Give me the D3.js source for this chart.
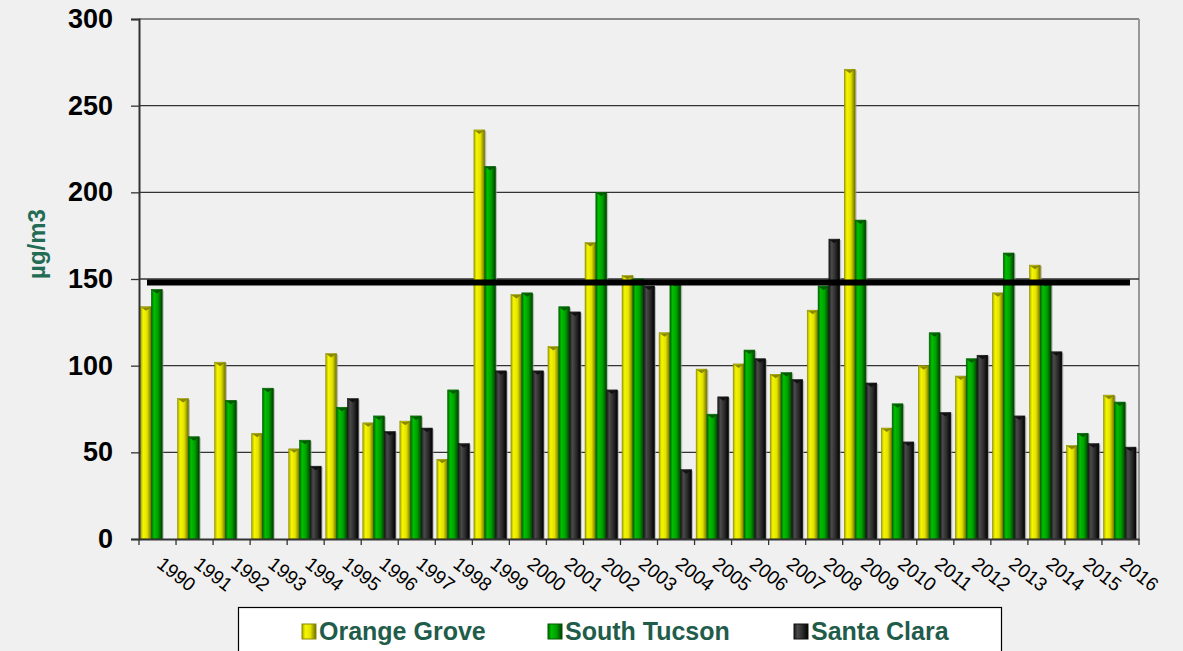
<!DOCTYPE html>
<html lang="en">
  <head>
    <meta charset="UTF-8" />
    <title>PM10 by year</title>
    <script src="https://d3js.org/d3.v7.min.js"></script>
    <style>
      body {
        margin: 0;
        background: #f0f0f0;
        font-family: "Liberation Sans", Arial, sans-serif;
      }
      svg {
        display: block;
      }
    </style>
  </head>
  <body>
    <svg id="chart" width="1183" height="651"></svg>

    <script>
      const years = [
        "1990", "1991", "1992", "1993", "1994", "1995", "1996", "1997", "1998",
        "1999", "2000", "2001", "2002", "2003", "2004", "2005", "2006", "2007",
        "2008", "2009", "2010", "2011", "2012", "2013", "2014", "2015", "2016",
      ];
      const seriesNames = ["Orange Grove", "South Tucson", "Santa Clara"];
      const orangeGrove = [
        134, 81, 102, 61, 52, 107, 67, 68, 46, 236, 141, 111, 171, 152, 119, 98,
        101, 95, 132, 271, 64, 100, 94, 142, 158, 54, 83,
      ];
      const southTucson = [
        144, 59, 80, 87, 57, 76, 71, 71, 86, 215, 142, 134, 200, 150, 148, 72,
        109, 96, 146, 184, 78, 119, 104, 165, 148, 61, 79,
      ];
      const santaClara = [
        null, null, null, null, 42, 81, 62, 64, 55, 97, 97, 131, 86, 146, 40, 82,
        104, 92, 173, 90, 56, 73, 106, 71, 108, 55, 53,
      ];
      const yTicks = [0, 50, 100, 150, 200, 250, 300];
      const standard = 148;

      const svg = d3.select("#chart");
      const margin = { left: 139, right: 44, top: 19, bottom: 112 };
      const width = 1183, height = 651;
      const plotW = width - margin.left - margin.right;

      const x = d3.scaleBand().domain(years).range([margin.left, margin.left + plotW]).padding(0);
      const x1 = d3.scaleBand().domain(seriesNames).range([1.6, x.bandwidth() - 3]).padding(0);
      const y = d3.scaleLinear().domain([0, 300]).range([height - margin.bottom, margin.top]);

      const colors = {
        "Orange Grove": ["#a8a800", "#f6f600", "#e2e200", "#6c6c00", "#8a8a00"],
        "South Tucson": ["#006a00", "#00c000", "#00a000", "#003c00", "#005a00"],
        "Santa Clara": ["#1a1a1a", "#4a4a4a", "#2c2c2c", "#000000", "#111111"],
      };

      const defs = svg.append("defs");
      seriesNames.forEach((s, i) => {
        const c = colors[s];
        const g = defs.append("linearGradient").attr("id", "grad" + i)
          .attr("x1", "0%").attr("x2", "100%").attr("y1", "0%").attr("y2", "0%");
        g.append("stop").attr("offset", "0%").attr("stop-color", c[0]);
        g.append("stop").attr("offset", "25%").attr("stop-color", c[1]);
        g.append("stop").attr("offset", "60%").attr("stop-color", c[2]);
        g.append("stop").attr("offset", "100%").attr("stop-color", c[3]);
      });

      // plot frame
      svg.append("line")
        .attr("x1", margin.left).attr("x2", margin.left + plotW)
        .attr("y1", y(300)).attr("y2", y(300))
        .attr("stroke", "#888").attr("stroke-width", 2);
      svg.append("line")
        .attr("x1", margin.left + plotW).attr("x2", margin.left + plotW)
        .attr("y1", y(300)).attr("y2", y(0))
        .attr("stroke", "#999").attr("stroke-width", 2);

      // gridlines
      svg.append("g").selectAll("line")
        .data(yTicks.filter((t) => t > 0 && t < 300))
        .join("line")
        .attr("x1", margin.left).attr("x2", margin.left + plotW)
        .attr("y1", (d) => y(d)).attr("y2", (d) => y(d))
        .attr("stroke", "#333").attr("stroke-width", 1.3);

      // bars
      const data = [orangeGrove, southTucson, santaClara];
      seriesNames.forEach((s, i) => {
        const vals = years.map((yr, j) => ({ yr, v: data[i][j] })).filter((d) => d.v != null);
        const g = svg.append("g");
        g.selectAll("rect.shadow").data(vals).join("rect")
          .attr("class", "shadow")
          .attr("x", (d) => x(d.yr) + x1(s) + 1.5)
          .attr("y", (d) => y(d.v) + 1)
          .attr("width", x1.bandwidth())
          .attr("height", (d) => y(0) - y(d.v) - 1)
          .attr("fill", "#999").attr("opacity", 0.6);
        g.selectAll("rect.bar").data(vals).join("rect")
          .attr("class", "bar")
          .attr("x", (d) => x(d.yr) + x1(s))
          .attr("y", (d) => y(d.v))
          .attr("width", x1.bandwidth())
          .attr("height", (d) => y(0) - y(d.v))
          .attr("fill", "url(#grad" + i + ")")
          .attr("stroke", colors[s][4]).attr("stroke-width", 0.6);
        g.selectAll("path.cap").data(vals).join("path")
          .attr("class", "cap")
          .attr("d", (d) => {
            const x0 = x(d.yr) + x1(s), w = x1.bandwidth(), t = y(d.v);
            return `M${x0 + 0.5},${t + 0.5}L${x0 + w - 0.5},${t + 0.5}L${x0 + w / 2},${t + 4}Z`;
          })
          .attr("fill", colors[s][4]);
      });

      // standard line
      svg.append("line")
        .attr("x1", x("1990") + 8).attr("x2", x("2016") + x.bandwidth() - 9)
        .attr("y1", y(standard)).attr("y2", y(standard))
        .attr("stroke", "#000").attr("stroke-width", 6);

      // y axis
      const yAxis = svg.append("g")
        .attr("transform", `translate(${margin.left},0)`)
        .call(d3.axisLeft(y).tickValues(yTicks).tickSize(8).tickPadding(18));
      yAxis.select(".domain").attr("stroke", "#333").attr("stroke-width", 2);
      yAxis.selectAll(".tick line").attr("stroke", "#333").attr("stroke-width", 1.3);
      yAxis.selectAll(".tick text")
        .attr("font-family", "Liberation Sans, Arial, sans-serif")
        .attr("font-size", 27).attr("font-weight", "bold").attr("fill", "#000");

      // x axis
      const xAxis = svg.append("g")
        .attr("transform", `translate(0,${y(0)})`)
        .call(d3.axisBottom(x).tickSize(0).tickFormat(""));
      xAxis.select(".domain").attr("stroke", "#333").attr("stroke-width", 2);
      svg.append("g").selectAll("line")
        .data(years.concat(["end"]))
        .join("line")
        .attr("x1", (d, i) => margin.left + i * x.step())
        .attr("x2", (d, i) => margin.left + i * x.step())
        .attr("y1", y(0)).attr("y2", y(0) + 6)
        .attr("stroke", "#333").attr("stroke-width", 1.3);

      svg.append("g").selectAll("text")
        .data(years)
        .join("text")
        .attr("transform", (d) => `translate(${x(d) + x.bandwidth() / 2 + 7},${y(0) + 16}) rotate(38)`)
        .attr("dy", "0.75em")
        .attr("font-size", 19)
        .attr("font-family", "Liberation Sans, Arial, sans-serif")
        .attr("fill", "#000")
        .text((d) => d);

      // y label
      svg.append("text")
        .attr("transform", "translate(45,244) rotate(-90)")
        .attr("text-anchor", "middle")
        .attr("font-size", 24).attr("font-weight", "bold")
        .attr("fill", "#226b55")
        .text("µg/m3");

      // legend
      const legend = svg.append("g");
      legend.append("rect")
        .attr("x", 238.5).attr("y", 607.5).attr("width", 763).attr("height", 60)
        .attr("fill", "#fff").attr("stroke", "#000").attr("stroke-width", 1.2);
      const legendX = [302, 548, 794];
      seriesNames.forEach((s, i) => {
        legend.append("rect")
          .attr("x", legendX[i]).attr("y", 624).attr("width", 14).attr("height", 15)
          .attr("fill", "url(#grad" + i + ")").attr("stroke", colors[s][4]).attr("stroke-width", 1);
        legend.append("text")
          .attr("x", legendX[i] + 17).attr("y", 640)
          .attr("font-size", 25).attr("font-weight", "bold")
          .attr("fill", "#1f5c4a")
          .text(s);
      });
    </script>
  </body>
</html>
